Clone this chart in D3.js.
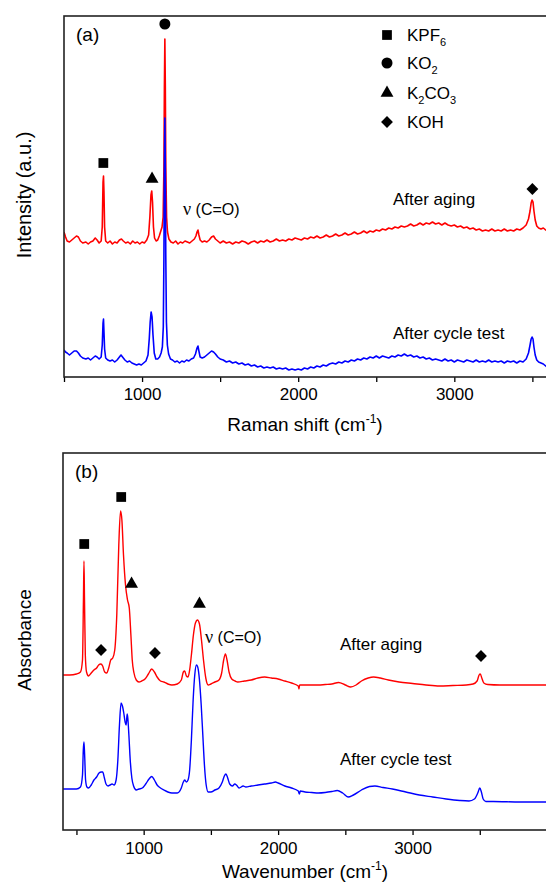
<!DOCTYPE html>
<html>
<head>
<meta charset="utf-8">
<script src="https://cdn.jsdelivr.net/npm/d3@7"></script>
<style>
  body { margin: 0; background: #fff; }
  svg { display: block; font-family: 'Liberation Sans', Arial, sans-serif; }
</style>
</head>
<body>
<script>
// ---- data ----
// Raman, panel (a): [Raman shift, intensity a.u.]
const ramanAging = [[500,145],[510,140],[520,136],[535,135],[550,137],[565,139],[580,141],[592,140],[605,136],[620,134],[640,135],[655,133],[670,135],[685,136],[700,139],[712,137],[725,134],[738,136],[745,150],[750,195],[753,201],[756,185],[760,150],[767,136],[780,134],[795,136],[810,133],[825,135],[840,134],[855,137],[868,138],[880,136],[895,134],[910,135],[925,133],[940,136],[955,134],[970,135],[985,133],[1000,135],[1015,134],[1030,137],[1042,142],[1050,160],[1057,182],[1062,186],[1067,175],[1073,150],[1080,139],[1090,136],[1100,137],[1110,141],[1120,146],[1128,150],[1135,160],[1140,210],[1143,290],[1146,338],[1149,290],[1152,210],[1157,160],[1163,145],[1172,138],[1185,135],[1200,134],[1215,136],[1230,133],[1245,135],[1260,134],[1275,136],[1290,135],[1305,134],[1320,136],[1335,138],[1345,141],[1352,145],[1358,147],[1364,142],[1372,137],[1385,135],[1400,136],[1415,135],[1430,137],[1445,140],[1458,141],[1470,138],[1485,136],[1500,134],[1520,136],[1540,134],[1560,135],[1580,133],[1600,135],[1620,134],[1640,136],[1660,135],[1680,133],[1700,135],[1720,136],[1740,134],[1760,136],[1780,135],[1800,137],[1820,135],[1840,136],[1860,138],[1880,136],[1900,137],[1920,136],[1940,138],[1960,137],[1980,139],[2000,138],[2020,137],[2040,139],[2060,138],[2080,140],[2100,139],[2120,141],[2140,139],[2160,140],[2180,142],[2200,140],[2220,141],[2240,143],[2260,141],[2280,142],[2300,144],[2320,142],[2340,143],[2360,145],[2380,143],[2400,144],[2420,146],[2440,144],[2460,146],[2480,145],[2500,147],[2520,146],[2540,148],[2560,147],[2580,149],[2600,148],[2620,150],[2640,149],[2660,151],[2680,150],[2700,151],[2720,153],[2740,151],[2760,152],[2780,154],[2800,152],[2820,154],[2840,153],[2860,155],[2880,153],[2900,154],[2920,152],[2940,154],[2960,152],[2980,151],[3000,152],[3020,150],[3040,151],[3060,149],[3080,150],[3100,148],[3120,149],[3140,147],[3160,148],[3180,146],[3200,147],[3220,146],[3240,148],[3260,146],[3280,147],[3300,146],[3320,148],[3340,146],[3360,147],[3380,146],[3400,148],[3420,147],[3440,149],[3460,152],[3475,158],[3485,166],[3492,174],[3498,177],[3504,175],[3510,166],[3518,157],[3528,151],[3540,149],[3555,148],[3570,149],[3585,147],[3600,146]]

const ramanCycle = [[500,27],[510,25],[520,24],[535,22],[550,24],[565,26],[580,26],[592,24],[605,21],[620,19],[640,18],[655,19],[670,17],[685,19],[700,21],[712,20],[725,18],[738,20],[745,32],[750,54],[753,58],[756,45],[760,28],[767,19],[780,17],[795,16],[810,17],[825,15],[840,17],[855,20],[865,22],[875,20],[890,17],[905,15],[920,16],[935,14],[950,13],[965,12],[980,13],[995,12],[1010,14],[1025,16],[1038,22],[1046,38],[1052,55],[1058,65],[1064,60],[1070,42],[1078,24],[1088,18],[1100,18],[1112,20],[1122,24],[1130,30],[1136,50],[1140,120],[1143,210],[1146,259],[1149,210],[1152,120],[1156,55],[1162,32],[1170,23],[1182,18],[1195,17],[1210,15],[1225,16],[1240,14],[1255,16],[1270,15],[1285,17],[1300,16],[1315,18],[1330,19],[1342,23],[1352,29],[1358,31],[1364,26],[1372,20],[1385,19],[1400,20],[1415,22],[1430,24],[1445,26],[1458,25],[1470,23],[1485,20],[1500,18],[1520,17],[1540,15],[1560,16],[1580,14],[1600,15],[1620,13],[1640,14],[1660,12],[1680,13],[1700,11],[1720,12],[1740,10],[1760,11],[1780,9],[1800,10],[1820,9],[1840,10],[1860,8],[1880,9],[1900,8],[1920,9],[1940,7],[1960,8],[1980,7],[2000,8],[2020,7],[2040,9],[2060,8],[2080,10],[2100,9],[2120,11],[2140,10],[2160,12],[2180,11],[2200,13],[2220,14],[2240,13],[2260,15],[2280,14],[2300,16],[2320,15],[2340,17],[2360,16],[2380,18],[2400,17],[2420,19],[2440,18],[2460,20],[2480,19],[2500,21],[2520,19],[2540,21],[2560,20],[2580,19],[2600,21],[2620,20],[2640,22],[2660,21],[2680,23],[2700,21],[2720,22],[2740,20],[2760,21],[2780,19],[2800,20],[2820,18],[2840,19],[2860,17],[2880,18],[2900,17],[2920,16],[2940,18],[2960,16],[2980,17],[3000,15],[3020,17],[3040,16],[3060,15],[3080,17],[3100,16],[3120,15],[3140,17],[3160,15],[3180,16],[3200,15],[3220,17],[3240,15],[3260,16],[3280,15],[3300,16],[3320,14],[3340,16],[3360,15],[3380,16],[3400,14],[3420,16],[3440,15],[3460,18],[3475,24],[3485,32],[3492,38],[3498,40],[3504,38],[3510,30],[3518,22],[3528,17],[3540,15],[3555,14],[3570,13],[3585,11],[3600,9]]

// FTIR, panel (b): [wavenumber, absorbance a.u.]
const irAging = [[400,155],[450,155],[500,156],[530,158],[545,170],[552,230],[556,269],[560,230],[566,175],[575,158],[590,154],[610,157],[630,160],[650,162],[665,165],[682,166],[695,164],[710,158],[725,157],[740,162],[755,170],[770,172],[785,180],[800,215],[815,285],[828,319],[838,310],[850,275],[865,245],[880,230],[893,222],[905,195],[915,170],[928,157],[945,150],[965,148],[985,149],[1010,151],[1035,156],[1060,161],[1080,158],[1100,153],[1125,149],[1150,148],[1180,146],[1210,145],[1250,146],[1280,150],[1295,158],[1305,159],[1318,154],[1330,153],[1342,160],[1355,175],[1370,195],[1385,207],[1400,210],[1415,206],[1430,190],[1445,170],[1462,152],[1480,145],[1500,146],[1530,148],[1560,150],[1580,157],[1595,170],[1608,176],[1620,170],[1635,158],[1655,151],[1680,149],[1700,148],[1750,149],[1800,150],[1850,152],[1900,153],[1950,152],[2000,151],[2050,149],[2100,147],[2150,144],[2155,141],[2160,145],[2200,145],[2250,145],[2300,145],[2350,145.5],[2400,146],[2450,147.5],[2500,145],[2540,143],[2580,145],[2620,149],[2670,152],[2710,153],[2760,152],[2820,150],[2900,148],[3000,146.5],[3100,145],[3200,144],[3300,144.5],[3400,145],[3450,146],[3480,149],[3495,155],[3504,156],[3515,152],[3530,147],[3560,145.5],[3650,145],[3800,145],[4000,145]]

const irCycle = [[400,41],[450,41],[500,41],[530,43],[545,55],[551,80],[556,88],[561,75],[568,50],[578,43],[590,42],[610,45],[630,50],[650,53],[668,57],[685,58],[695,58],[708,52],[720,46],[735,44],[750,45],[765,46],[780,45],[795,50],[808,70],[820,105],[832,127],[842,124],[852,117],[862,108],[870,105],[877,116],[882,112],[890,95],[900,70],[912,52],[925,44],[945,40],[965,41],[990,42],[1015,46],[1040,51],[1060,53.5],[1080,50],[1100,45],[1125,42],[1150,40],[1180,38],[1210,37],[1250,37],[1280,42],[1295,48],[1305,50],[1318,48],[1330,50],[1342,60],[1355,90],[1368,130],[1380,155],[1392,165],[1402,163],[1415,150],[1428,125],[1440,95],[1452,65],[1465,45],[1480,38],[1500,38],[1530,40],[1560,42],[1585,48],[1600,54],[1612,56],[1625,52],[1640,46],[1660,44],[1678,46],[1690,45],[1710,42],[1740,44],[1760,43],[1800,44],[1850,45],[1900,46],[1950,47],[1980,48],[2000,47],[2050,44],[2100,42],[2150,39],[2158,36],[2165,39],[2200,38],[2250,37.5],[2300,37],[2350,37.5],[2400,38.5],[2440,39.5],[2480,37],[2520,33],[2560,35],[2620,40],[2680,43.5],[2720,44],[2780,42.5],[2850,41],[2950,38],[3050,35],[3150,33],[3250,31],[3350,29.5],[3420,29],[3460,31],[3485,37],[3500,42],[3512,38],[3525,31],[3545,28.5],[3600,28.5],[3800,28],[4000,28]]

// peak markers: [symbol, wavenumber, height]
const ramanMarks = [['square',752,214],['circle',1146,353],['triangle',1064,198],['diamond',3500,188]]
const irMarks = [['square',558,286],['square',833,333],['triangle',910,246],['triangle',1415,226],
  ['diamond',683,180],['diamond',1084,177],['diamond',3509,174]]

const xTicksRaman = [500, 1000, 1500, 2000, 2500, 3000, 3500]
const xTicksIR = [500, 1000, 1500, 2000, 2500, 3000, 3500]
const legendItems = [['square','KPF','6'],['circle','KO','2'],['triangle','K','2','CO','3'],['diamond','KOH']]

const W = 546, H = 885
const svg = d3.select('body').append('svg').attr('width', W).attr('height', H)

const symbols = {
  square: d3.symbol().type(d3.symbolSquare).size(95),
  circle: d3.symbol().type(d3.symbolCircle).size(95),
  triangle: d3.symbol().type(d3.symbolTriangle).size(72),
  diamond: d3.symbol().type(d3.symbolSquare).size(70)
}

function marker(g, type, cx, cy) {
  g.append('path')
    .attr('d', symbols[type]())
    .attr('transform', `translate(${cx},${cy})` + (type === 'diamond' ? ' rotate(45)' : ''))
    .attr('fill', '#000')
}

function panel(opt) {
  const g = svg.append('g')
  const x = d3.scaleLinear().domain(opt.xDomain).range([opt.left, opt.right])
  const y = d3.scaleLinear().domain(opt.yDomain).range([opt.bottom, opt.top])

  const clipId = 'clip-' + opt.id
  g.append('clipPath').attr('id', clipId)
    .append('rect')
    .attr('x', opt.left).attr('y', opt.top)
    .attr('width', opt.right - opt.left).attr('height', opt.bottom - opt.top)

  const line = d3.line()
    .x(d => x(d[0]))
    .y(d => y(d[1]))
    .curve(opt.curve)

  const lines = g.append('g').attr('clip-path', `url(#${clipId})`)
  opt.series.forEach(s => {
    lines.append('path')
      .datum(s.data)
      .attr('d', line)
      .attr('fill', 'none')
      .attr('stroke', s.color)
      .attr('stroke-width', opt.lineWidth)
      .attr('stroke-linejoin', 'round')
  })

  // axis
  const xAxis = d3.axisBottom(x)
    .tickValues(opt.ticks)
    .tickSize(5)
    .tickSizeOuter(0)
    .tickFormat(d => (d % 1000 === 0 ? d : ''))

  const ax = g.append('g')
    .attr('transform', `translate(0,${opt.bottom})`)
    .call(xAxis)
  ax.select('.domain').remove()
  ax.selectAll('.tick line').attr('stroke', '#000').attr('stroke-width', 1.3)
  ax.selectAll('.tick text')
    .attr('font-family', 'Liberation Sans, Arial, sans-serif')
    .attr('font-size', 17)
    .attr('fill', '#000')
    .attr('y', opt.tickPad)

  // frame
  g.append('rect')
    .attr('x', opt.left).attr('y', opt.top)
    .attr('width', opt.right - opt.left).attr('height', opt.bottom - opt.top)
    .attr('fill', 'none').attr('stroke', '#222').attr('stroke-width', 1.6)

  // titles
  const xt = g.append('text')
    .attr('x', opt.xTitleX).attr('y', opt.xTitleY)
    .attr('text-anchor', 'middle')
    .attr('font-size', 19)
  xt.append('tspan').text(opt.xTitle + ' (cm')
  xt.append('tspan').attr('font-size', 12).attr('dy', -8).text('-1')
  xt.append('tspan').attr('dy', 8).text(')')

  g.append('text')
    .attr('transform', `translate(${opt.yTitleX},${opt.yTitleY}) rotate(-90)`)
    .attr('text-anchor', 'middle')
    .attr('font-size', opt.yTitleSize)
    .text(opt.yTitle)

  g.append('text')
    .attr('x', opt.left + 12).attr('y', opt.top + 25)
    .attr('font-size', 19)
    .text(opt.label)

  // marks
  opt.marks.forEach(m => marker(g, m[0], x(m[1]), y(m[2])))

  // series labels
  opt.series.forEach(s => {
    g.append('text')
      .attr('x', s.lx).attr('y', s.ly)
      .attr('font-size', 17)
      .text(s.name)
  })

  // nu (C=O)
  const nu = g.append('text')
    .attr('x', opt.nuX).attr('y', opt.nuY)
    .attr('font-size', 16)
  nu.append('tspan').attr('font-family', 'Liberation Serif, Times New Roman, serif').attr('font-size', 18).text('ν')
  nu.append('tspan').text(' (C=O)')

  return { g, x, y }
}

panel({
  id: 'a',
  xDomain: [500, 3600], yDomain: [0, 361],
  left: 64, right: 548, top: 16, bottom: 377,
  curve: d3.curveLinear, lineWidth: 1.6,
  ticks: xTicksRaman, tickPad: 11,
  xTitle: 'Raman shift', xTitleX: 305, xTitleY: 431,
  yTitle: 'Intensity (a.u.)', yTitleX: 31, yTitleY: 195, yTitleSize: 20,
  label: '(a)',
  marks: ramanMarks,
  series: [
    { name: 'After aging', data: ramanAging, color: '#ff0000', lx: 393, ly: 205 },
    { name: 'After cycle test', data: ramanCycle, color: '#0000ff', lx: 393, ly: 339 }
  ],
  nuX: 183, nuY: 215
})

panel({
  id: 'b',
  xDomain: [400, 4000], yDomain: [0, 377],
  left: 63, right: 547, top: 453, bottom: 830,
  curve: d3.curveMonotoneX, lineWidth: 1.4,
  ticks: xTicksIR, tickPad: 12,
  xTitle: 'Wavenumber', xTitleX: 305, xTitleY: 878,
  yTitle: 'Absorbance', yTitleX: 31, yTitleY: 640, yTitleSize: 19,
  label: '(b)',
  marks: irMarks,
  series: [
    { name: 'After aging', data: irAging, color: '#ff0000', lx: 340, ly: 650 },
    { name: 'After cycle test', data: irCycle, color: '#0000ff', lx: 340, ly: 765 }
  ],
  nuX: 205, nuY: 643
})

// legend in panel (a)
const legend = svg.append('g')
legendItems.forEach((item, i) => {
  const cy = [35, 63, 93, 122][i]
  marker(legend, item[0], 387, cy)
  const t = legend.append('text').attr('x', 407).attr('y', cy + 6).attr('font-size', 17)
  item.slice(1).forEach((part, j) => {
    if (j % 2 === 1) t.append('tspan').attr('font-size', 11).attr('dy', 5).text(part)
    else t.append('tspan').attr('dy', j === 0 ? 0 : -5).text(part)
  })
})
</script>
</body>
</html>
